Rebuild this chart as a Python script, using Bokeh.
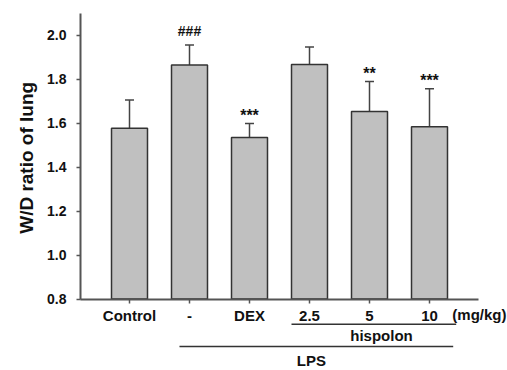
import math
from bokeh.plotting import figure
from bokeh.models import ColumnDataSource, FixedTicker, Whisker, CustomJSTickFormatter
from bokeh.core.properties import value
from bokeh.embed import file_html
from bokeh.resources import INLINE

# Lung wet/dry ratio per treatment group (mean and SEM)
groups = ["Control", "-", "DEX", "2.5", "5", "10"]
means = [1.577, 1.865, 1.536, 1.868, 1.654, 1.584]
sems = [0.129, 0.091, 0.063, 0.079, 0.136, 0.173]
marks = ["", "###", "***", "", "**", "***"]
y_ticks = [0.8, 1.0, 1.2, 1.4, 1.6, 1.8, 2.0]

FONT = "Liberation Sans"
GREY_AXIS = "#555555"
EDGE = "#333333"
INK = "#111111"
Y_MIN, Y_MAX = 0.8, 2.1
X_MIN, X_MAX = -0.817, 5.817

xs = list(range(len(groups)))
upper = [m + s for m, s in zip(means, sems)]
# hashes and asterisks use different sizes and pixel lifts above the error cap
is_hash = [m.startswith("#") for m in marks]
lift = [-14 if h else -8 for h in is_hash]
mark_size = ["14px" if h else "16px" for h in is_hash]
src = ColumnDataSource(dict(x=xs, mean=means, upper=upper, base=[Y_MIN] * len(xs),
                            mark=marks, lift=lift, msize=mark_size))

# one frame spans the whole canvas; both axes are pinned inside it so the
# treatment legend and the axis title can be drawn around the plotting area
p = figure(width=507, height=370, output_backend="svg", toolbar_location=None,
           x_range=(-2.15, 6.3), y_range=(0.475, 2.159),
           min_border_left=0, min_border_right=0, min_border_top=0, min_border_bottom=0)
p.outline_line_color = None
p.grid.grid_line_color = None

# error bars (upper half only)
p.segment(x0="x", y0="mean", x1="x", y1="upper", source=src, line_color="#444444", line_width=1.5)
whisk = Whisker(base="x", upper="upper", lower="upper", source=src, dimension="height",
                line_color="#444444", line_width=1.5, upper_head=None)
whisk.lower_head.size = 9
whisk.lower_head.line_color = "#444444"
whisk.lower_head.line_width = 1.5
p.add_layout(whisk)

p.vbar(x="x", top="mean", bottom="base", width=0.6, source=src,
       fill_color="#c0c0c0", line_color=EDGE, line_width=1.5)

# significance marks above the error bars
p.text(x="x", y="upper", text="mark", y_offset="lift", source=src,
       text_font=value(FONT), text_font_style="bold", text_font_size="msize",
       text_align="center", text_baseline="alphabetic", text_color=INK)

# axes
p.yaxis.ticker = FixedTicker(ticks=y_ticks)
p.yaxis.formatter = CustomJSTickFormatter(code="return tick.toFixed(1);")
p.yaxis.bounds = (Y_MIN, Y_MAX)
p.yaxis.fixed_location = X_MIN
p.xaxis.ticker = FixedTicker(ticks=xs)
p.xaxis.major_label_overrides = {i: g for i, g in enumerate(groups)}
p.xaxis.bounds = (X_MIN, X_MAX)
p.xaxis.fixed_location = Y_MIN

for ax in (p.xaxis[0], p.yaxis[0]):
    ax.axis_line_color = GREY_AXIS
    ax.axis_line_width = 2
    ax.major_tick_line_color = GREY_AXIS
    ax.major_tick_line_width = 1.5
    ax.major_tick_out = 4
    ax.major_tick_in = 0
    ax.minor_tick_line_color = None
    ax.major_label_text_font = FONT
    ax.major_label_text_font_style = "bold"
    ax.major_label_text_color = INK

p.yaxis.major_label_text_font_size = "14px"
p.yaxis.major_label_standoff = 10
p.xaxis.major_label_text_font_size = "15px"
p.xaxis.major_label_standoff = 4

# axis title
p.text(x=[-1.717], y=[1.443], text=["W/D ratio of lung"], angle=math.pi / 2,
       text_font=value(FONT), text_font_style="bold", text_font_size="19px",
       text_align="center", text_baseline="middle", text_color=INK)

# treatment legend under the x axis: dose unit, hispolon bracket, LPS bracket
p.text(x=[6.283], y=[0.7285], text=["(mg/kg)"],
       text_font=value(FONT), text_font_style="bold", text_font_size="15px",
       text_align="right", text_baseline="middle", text_color=INK)
p.text(x=[4.2, 3.03], y=[0.633, 0.519], text=["hispolon", "LPS"],
       text_font=value(FONT), text_font_style="bold", text_font_size="15px",
       text_align="center", text_baseline="middle", text_color=INK)
p.segment(x0=[2.7, 0.833], y0=[0.686, 0.584], x1=[5.445, 5.395], y1=[0.686, 0.584],
          line_color=EDGE, line_width=1.5)

open("out.html", "w").write(file_html(p, INLINE))
